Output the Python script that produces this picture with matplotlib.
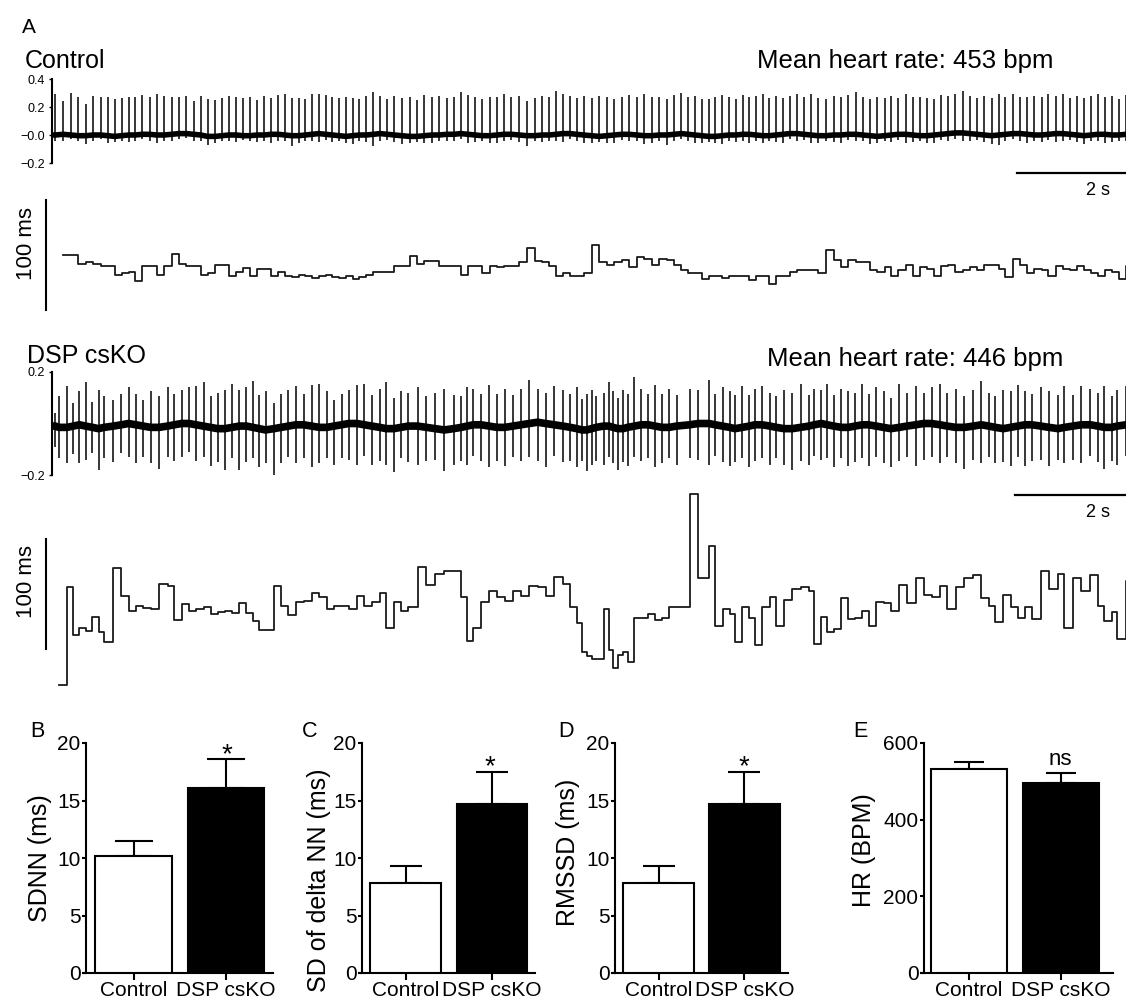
import numpy as np
import matplotlib
matplotlib.use("Agg")
import matplotlib.pyplot as plt

plt.rcParams["font.family"] = ["Liberation Sans", "DejaVu Sans"]

# ---- panel A: RR intervals (ms), one value per beat ----
ctrl_rr = [
    144, 144, 136, 137, 136, 134, 134, 126, 127, 128,
    120, 134, 134, 126, 134, 145, 136, 134, 134, 126,
    127, 135, 135, 125, 128, 132, 125, 131, 131, 125,
    128, 125, 124, 126, 125, 123, 125, 126, 124, 123,
    125, 122, 124, 126, 128, 128, 128, 134, 134, 143,
    136, 138, 138, 134, 134, 134, 126, 134, 134, 127,
    134, 133, 134, 134, 137, 150, 138, 137, 134, 125,
    127, 125, 125, 127, 153, 137, 135, 137, 139, 133,
    142, 140, 135, 140, 139, 135, 130, 127, 127, 122,
    125, 125, 123, 125, 125, 125, 121, 125, 125, 117,
    125, 125, 128, 130, 130, 130, 127, 148, 139, 133,
    139, 137, 137, 130, 128, 133, 125, 130, 135, 125,
    133, 131, 125, 134, 135, 128, 130, 133, 130, 135,
    135, 131, 124, 140, 135, 127, 131, 130, 125, 134,
    131, 130, 134, 130, 127, 125, 130, 128, 122, 134]

# R peak height, S dip and baseline (mV) per beat, control ECG
ctrl_r = [
    0.29, 0.24, 0.30, 0.28, 0.23, 0.28, 0.27, 0.28, 0.27, 0.27,
    0.27, 0.27, 0.28, 0.27, 0.29, 0.28, 0.27, 0.26, 0.27, 0.24,
    0.28, 0.27, 0.26, 0.27, 0.28, 0.27, 0.27, 0.28, 0.25, 0.28,
    0.26, 0.28, 0.29, 0.27, 0.27, 0.26, 0.29, 0.28, 0.28, 0.27,
    0.27, 0.28, 0.27, 0.26, 0.28, 0.30, 0.27, 0.25, 0.28, 0.27,
    0.28, 0.26, 0.29, 0.27, 0.28, 0.26, 0.27, 0.30, 0.28, 0.27,
    0.26, 0.28, 0.27, 0.29, 0.27, 0.28, 0.25, 0.27, 0.28, 0.27,
    0.31, 0.28, 0.27, 0.26, 0.28, 0.27, 0.29, 0.28, 0.26, 0.27,
    0.28, 0.27, 0.30, 0.28, 0.27, 0.26, 0.28, 0.29, 0.27, 0.28,
    0.26, 0.27, 0.28, 0.29, 0.27, 0.26, 0.28, 0.27, 0.28, 0.30,
    0.27, 0.28, 0.26, 0.27, 0.28, 0.27, 0.29, 0.27, 0.26, 0.28,
    0.27, 0.28, 0.30, 0.27, 0.26, 0.28, 0.27, 0.28, 0.26, 0.29,
    0.27, 0.28, 0.27, 0.26, 0.28, 0.27, 0.28, 0.30, 0.27, 0.26,
    0.28, 0.27, 0.29, 0.27, 0.28, 0.26, 0.27, 0.28, 0.27, 0.29,
    0.27, 0.28, 0.26, 0.28, 0.27, 0.28, 0.29, 0.27, 0.28, 0.26,
    0.28]
ctrl_s = [
    -0.04, -0.05, -0.03, -0.04, -0.06, -0.04, -0.03, -0.05, -0.04, -0.04,
    -0.05, -0.04, -0.03, -0.05, -0.06, -0.04, -0.05, -0.04, -0.03, -0.05,
    -0.04, -0.06, -0.05, -0.04, -0.04, -0.05, -0.03, -0.04, -0.05, -0.04,
    -0.06, -0.05, -0.04, -0.07, -0.05, -0.04, -0.05, -0.06, -0.04, -0.05,
    -0.04, -0.05, -0.06, -0.04, -0.05, -0.08, -0.05, -0.04, -0.05, -0.06,
    -0.05, -0.04, -0.05, -0.06, -0.04, -0.05, -0.05, -0.04, -0.06, -0.05,
    -0.04, -0.05, -0.06, -0.05, -0.04, -0.05, -0.07, -0.04, -0.05, -0.04,
    -0.05, -0.06, -0.04, -0.05, -0.06, -0.05, -0.04, -0.05, -0.06, -0.04,
    -0.05, -0.04, -0.06, -0.05, -0.04, -0.07, -0.05, -0.04, -0.05, -0.06,
    -0.05, -0.04, -0.05, -0.06, -0.04, -0.05, -0.05, -0.06, -0.04, -0.05,
    -0.04, -0.05, -0.06, -0.04, -0.05, -0.04, -0.06, -0.05, -0.04, -0.05,
    -0.06, -0.04, -0.05, -0.04, -0.06, -0.05, -0.04, -0.05, -0.04, -0.06,
    -0.05, -0.04, -0.05, -0.06, -0.04, -0.05, -0.04, -0.06, -0.05, -0.04,
    -0.05, -0.06, -0.07, -0.05, -0.04, -0.05, -0.06, -0.04, -0.05, -0.04,
    -0.06, -0.05, -0.04, -0.05, -0.06, -0.04, -0.05, -0.06, -0.05, -0.04,
    -0.05]
ctrl_base = [
    0.000, 0.005, 0.000, -0.005, -0.005, 0.000, 0.000, -0.005, -0.010, -0.005,
    0.000, 0.000, 0.005, 0.005, 0.000, 0.000, 0.005, 0.010, 0.010, 0.005,
    0.000, -0.010, -0.010, -0.005, 0.000, 0.000, -0.005, -0.005, 0.000, 0.000,
    0.005, 0.005, 0.000, -0.005, -0.005, 0.000, 0.005, 0.010, 0.005, 0.000,
    -0.005, -0.010, -0.005, 0.000, 0.000, 0.005, 0.010, 0.005, 0.000, -0.005,
    -0.010, -0.010, -0.005, 0.000, 0.000, 0.005, 0.005, 0.010, 0.005, 0.000,
    -0.005, -0.005, 0.000, 0.005, 0.005, 0.000, -0.005, -0.005, 0.000, 0.000,
    0.005, 0.010, 0.010, 0.005, 0.000, -0.005, -0.010, -0.005, 0.000, 0.005,
    0.005, 0.000, -0.005, -0.005, 0.000, 0.000, 0.005, 0.010, 0.005, 0.000,
    -0.005, -0.010, -0.010, -0.005, 0.000, 0.000, 0.005, 0.005, 0.000, -0.005,
    -0.005, 0.000, 0.005, 0.010, 0.010, 0.005, 0.000, -0.005, -0.005, 0.000,
    0.000, 0.005, 0.005, 0.000, -0.005, -0.010, -0.005, 0.000, 0.005, 0.005,
    0.000, -0.005, -0.005, 0.000, 0.005, 0.010, 0.015, 0.015, 0.010, 0.005,
    0.000, -0.005, 0.000, 0.005, 0.010, 0.010, 0.005, 0.000, 0.000, 0.005,
    0.010, 0.010, 0.005, 0.000, -0.005, 0.000, 0.005, 0.005, 0.000, 0.000,
    0.005]

ko_rr = [
    62, 151, 107, 114, 111, 124, 110, 101, 168, 143,
    129, 134, 132, 131, 154, 152, 121, 135, 129, 131,
    133, 126, 128, 129, 127, 136, 127, 120, 112, 112,
    152, 134, 125, 137, 138, 145, 142, 131, 134, 134,
    131, 143, 134, 137, 145, 114, 137, 129, 133, 169,
    153, 163, 165, 165, 142, 102, 114, 137, 147, 142,
    138, 147, 143, 152, 151, 143, 160, 154, 133, 118,
    92, 88, 85, 85, 131, 94, 77, 89, 92, 83,
    123, 123, 126, 121, 123, 133, 133, 235, 159, 188,
    115, 131, 126, 101, 133, 123, 98, 133, 142, 115,
    139, 149, 151, 147, 99, 124, 110, 113, 141, 122,
    123, 129, 115, 137, 136, 129, 153, 136, 159, 144,
    142, 152, 131, 151, 159, 162, 141, 134, 119, 144,
    133, 123, 133, 122, 165, 149, 163, 114, 159, 147,
    162, 134, 120, 128, 104, 156]

ko_r = [
    0.05, 0.12, 0.16, 0.09, 0.13, 0.17, 0.10, 0.15, 0.12, 0.10,
    0.12, 0.14, 0.12, 0.10, 0.14, 0.12, 0.15, 0.12, 0.13, 0.14,
    0.15, 0.17, 0.12, 0.14, 0.15, 0.17, 0.14, 0.15, 0.18, 0.13,
    0.15, 0.10, 0.13, 0.14, 0.15, 0.12, 0.16, 0.17, 0.14, 0.10,
    0.12, 0.13, 0.15, 0.16, 0.12, 0.15, 0.18, 0.12, 0.14, 0.13,
    0.15, 0.12, 0.14, 0.16, 0.13, 0.12, 0.15, 0.14, 0.12, 0.16,
    0.13, 0.15, 0.12, 0.14, 0.17, 0.13, 0.12, 0.15, 0.14, 0.13,
    0.16, 0.12, 0.14, 0.15, 0.12, 0.13, 0.17, 0.14, 0.12, 0.15,
    0.13, 0.19, 0.14, 0.12, 0.16, 0.13, 0.15, 0.12, 0.14, 0.13,
    0.17, 0.12, 0.15, 0.14, 0.13, 0.16, 0.12, 0.14, 0.15, 0.13,
    0.12, 0.15, 0.14, 0.17, 0.12, 0.14, 0.13, 0.16, 0.12, 0.15,
    0.14, 0.13, 0.16, 0.12, 0.15, 0.14, 0.12, 0.17, 0.13, 0.15,
    0.12, 0.14, 0.16, 0.13, 0.15, 0.12, 0.14, 0.17, 0.13, 0.12,
    0.15, 0.14, 0.16, 0.13, 0.12, 0.15, 0.14, 0.13, 0.16, 0.12,
    0.15, 0.14, 0.13, 0.16, 0.12, 0.14, 0.15]
ko_s = [
    -0.08, -0.12, -0.14, -0.11, -0.15, -0.13, -0.10, -0.16, -0.12, -0.14,
    -0.11, -0.13, -0.15, -0.12, -0.14, -0.16, -0.12, -0.14, -0.13, -0.11,
    -0.14, -0.12, -0.15, -0.13, -0.16, -0.12, -0.17, -0.14, -0.12, -0.15,
    -0.13, -0.18, -0.14, -0.12, -0.15, -0.13, -0.16, -0.14, -0.12, -0.15,
    -0.13, -0.14, -0.16, -0.12, -0.15, -0.13, -0.14, -0.17, -0.12, -0.14,
    -0.15, -0.13, -0.12, -0.16, -0.14, -0.13, -0.15, -0.12, -0.14, -0.16,
    -0.13, -0.15, -0.12, -0.14, -0.13, -0.15, -0.17, -0.12, -0.14, -0.13,
    -0.15, -0.12, -0.16, -0.14, -0.13, -0.15, -0.12, -0.14, -0.16, -0.13,
    -0.15, -0.12, -0.14, -0.13, -0.16, -0.14, -0.12, -0.15, -0.13, -0.14,
    -0.16, -0.12, -0.14, -0.15, -0.13, -0.12, -0.16, -0.14, -0.13, -0.15,
    -0.12, -0.14, -0.16, -0.13, -0.15, -0.12, -0.14, -0.13, -0.16, -0.12,
    -0.15, -0.14, -0.13, -0.16, -0.12, -0.14, -0.15, -0.13, -0.12, -0.16,
    -0.14, -0.13, -0.15, -0.12, -0.14, -0.16, -0.13, -0.15, -0.12, -0.14,
    -0.13, -0.15, -0.12, -0.16, -0.14, -0.13, -0.15, -0.12, -0.14, -0.13,
    -0.15, -0.12, -0.14, -0.16, -0.13, -0.15, -0.12]
ko_base = [
    -0.010, -0.015, -0.015, -0.010, -0.005, -0.010, -0.015, -0.020, -0.015, -0.010,
    -0.005, 0.000, -0.005, -0.010, -0.015, -0.015, -0.010, -0.005, 0.000, 0.000,
    -0.005, -0.010, -0.015, -0.020, -0.020, -0.015, -0.010, -0.010, -0.015, -0.020,
    -0.025, -0.020, -0.015, -0.010, -0.005, -0.005, -0.010, -0.015, -0.015, -0.010,
    -0.005, 0.000, 0.000, -0.005, -0.010, -0.015, -0.020, -0.020, -0.015, -0.010,
    -0.010, -0.015, -0.020, -0.025, -0.020, -0.015, -0.010, -0.005, -0.005, -0.010,
    -0.015, -0.015, -0.010, -0.005, 0.000, 0.005, 0.000, -0.005, -0.010, -0.015,
    -0.020, -0.025, -0.025, -0.020, -0.015, -0.010, -0.010, -0.015, -0.020, -0.020,
    -0.015, -0.010, -0.005, -0.005, -0.010, -0.015, -0.015, -0.010, -0.005, 0.000,
    0.000, -0.005, -0.010, -0.015, -0.020, -0.015, -0.010, -0.005, -0.005, -0.010,
    -0.015, -0.020, -0.020, -0.015, -0.010, -0.005, 0.000, -0.005, -0.010, -0.015,
    -0.015, -0.010, -0.005, -0.005, -0.010, -0.015, -0.020, -0.015, -0.010, -0.005,
    0.000, 0.000, -0.005, -0.010, -0.015, -0.015, -0.010, -0.005, -0.010, -0.015,
    -0.020, -0.015, -0.010, -0.005, -0.005, -0.010, -0.015, -0.020, -0.015, -0.010,
    -0.005, -0.005, -0.010, -0.015, -0.015, -0.010, -0.005]

# ---- panels B-E: group means and upper SEM ----
groups = ["Control", "DSP csKO"]
sdnn = [10.2, 16.1]
sdnn_err = [1.3, 2.5]
sd_delta = [7.8, 14.7]
sd_delta_err = [1.5, 2.8]
rmssd = [7.8, 14.7]
rmssd_err = [1.5, 2.8]
hr = [532, 496]
hr_err = [18, 25]

W, H = 1126, 1001
fig = plt.figure(figsize=(W / 100, H / 100), dpi=100)


def px_axes(l, t, r, b):
    return fig.add_axes([l / W, 1 - b / H, (r - l) / W, (b - t) / H])


def ftext(x, y, s, **kw):
    return fig.text(x / W, 1 - y / H, s, **kw)


def beat_times(rr, lead=0.06):
    return lead + np.concatenate([[0.0], np.cumsum(rr) / 1000.0])


def draw_ecg(ax, rr, r_amp, s_amp, base, lw_base):
    t = beat_times(rr)
    n = min(len(t), len(r_amp), len(s_amp), len(base))
    t = t[:n]
    b = np.array(base[:n])
    xmax = t[-1]
    ax.plot(np.r_[0, t], np.r_[b[0], b], color="black", lw=lw_base,
            solid_joinstyle="round")
    ax.vlines(t, b + np.array(s_amp[:n]), b + np.array(r_amp[:n]),
              color="black", lw=1.1, clip_on=False)
    ax.set_xlim(0, xmax)
    for s in ["top", "right", "bottom"]:
        ax.spines[s].set_visible(False)
    ax.spines["left"].set_linewidth(1.5)
    ax.set_xticks([])
    ax.tick_params(axis="y", length=2, width=1, pad=3, labelsize=9)
    ax.patch.set_visible(False)
    return xmax


def draw_rr(ax, rr, xmax, ylim, bar_lo):
    t = beat_times(rr)
    xs = np.r_[t[1:], t[-1] + rr[-1] / 1000.0]
    ys = np.r_[rr, rr[-1]]
    ax.plot(xs, ys, drawstyle="steps-post", color="#1a1a1a", lw=1.3)
    ax.set_xlim(0, xmax)
    ax.set_ylim(*ylim)
    ax.axis("off")
    xbar = -6 * xmax / 1074.0
    ax.plot([xbar, xbar], [bar_lo, bar_lo + 100], color="black", lw=1.5,
            clip_on=False)


# ---- panel A ----
ftext(22, 33, "A", fontsize=15, va="baseline")

ftext(25, 68, "Control", fontsize=18, va="baseline")
ftext(757, 68, "Mean heart rate: 453 bpm", fontsize=18.5, va="baseline")
ax1 = px_axes(52, 79, 1126, 163)
ax1.set_ylim(-0.2, 0.4)
ax1.set_yticks([0.4, 0.2, 0.0, -0.2])
ax1.set_yticklabels(["0.4", "0.2", "\u22120.0", "\u22120.2"])
xm1 = draw_ecg(ax1, ctrl_rr, ctrl_r, ctrl_s, ctrl_base, 4.0)
ax1.plot([xm1 - 2, xm1], [-0.271, -0.271], color="black", lw=1.6, clip_on=False)
ftext(1098, 195, "2 s", fontsize=13, ha="center", va="baseline")

ax2 = px_axes(52, 190, 1126, 320)
draw_rr(ax2, ctrl_rr, xm1, (84.7, 202.9), 93.8)
ftext(26, 243, "100 ms", fontsize=16, rotation=90, ha="center", va="center")

ftext(27, 363, "DSP csKO", fontsize=18, va="baseline")
ftext(767, 366, "Mean heart rate: 446 bpm", fontsize=18.5, va="baseline")
ax3 = px_axes(52, 372, 1126, 475)
ax3.set_ylim(-0.2, 0.2)
ax3.set_yticks([0.2, -0.2])
ax3.set_yticklabels(["0.2", "\u22120.2"])
xm2 = draw_ecg(ax3, ko_rr, ko_r, ko_s, ko_base, 5.5)
ax3.plot([xm2 - 2, xm2], [-0.278, -0.278], color="black", lw=1.6, clip_on=False)
ftext(1098, 517, "2 s", fontsize=13, ha="center", va="baseline")

ax4 = px_axes(52, 480, 1126, 700)
draw_rr(ax4, ko_rr, xm2, (48.1, 248.1), 94.5)
ftext(26, 582, "100 ms", fontsize=16, rotation=90, ha="center", va="center")


# ---- panels B-E ----
def bar_panel(l, r, vals, errs, ymax, yticks, xl, width, capsize):
    ax = px_axes(l, 743, r, 973)
    ax.bar([0, 1], vals, width=width, color=["white", "black"],
           edgecolor="black", linewidth=1.5, zorder=3)
    ax.errorbar([0, 1], vals, yerr=[[0, 0], errs], fmt="none", ecolor="black",
                elinewidth=1.5, capsize=capsize, capthick=1.5, zorder=2)
    ax.set_xlim(*xl)
    ax.set_ylim(0, ymax)
    ax.set_yticks(yticks)
    ax.set_xticks([0, 1])
    ax.set_xticklabels(groups, fontsize=15)
    for s in ["top", "right"]:
        ax.spines[s].set_visible(False)
    for s in ["left", "bottom"]:
        ax.spines[s].set_linewidth(1.5)
    ax.spines["bottom"].set_bounds(xl[0] - 0.03, xl[1])
    ax.tick_params(axis="y", length=3, width=1.5, pad=1, labelsize=15)
    ax.tick_params(axis="x", length=5, width=1.5, pad=1)
    return ax


bar_panel(86, 273, sdnn, sdnn_err, 20, [0, 5, 10, 15, 20], (-0.514, 1.508), 0.83, 14)
ftext(30, 737, "B", fontsize=15.5, va="baseline")
ftext(40, 858, "SDNN (ms)", fontsize=18, rotation=90, ha="center", va="center")
ftext(227, 762, "*", fontsize=20, ha="center", va="baseline")

bar_panel(362, 535, sd_delta, sd_delta_err, 20, [0, 5, 10, 15, 20], (-0.503, 1.497), 0.82, 11.5)
ftext(302, 737, "C", fontsize=15.5, va="baseline")
ftext(319, 880, "SD of delta NN (ms)", fontsize=18, rotation=90, ha="center", va="center")
ftext(490, 774, "*", fontsize=20, ha="center", va="baseline")

bar_panel(615, 788, rmssd, rmssd_err, 20, [0, 5, 10, 15, 20], (-0.506, 1.506), 0.83, 11.5)
ftext(558, 737, "D", fontsize=15.5, va="baseline")
ftext(568, 852, "RMSSD (ms)", fontsize=18, rotation=90, ha="center", va="center")
ftext(744, 774, "*", fontsize=20, ha="center", va="baseline")

bar_panel(924, 1113, hr, hr_err, 600, [0, 200, 400, 600], (-0.49, 1.565), 0.83, 11)
ftext(853, 737, "E", fontsize=15.5, va="baseline")
ftext(864, 850, "HR (BPM)", fontsize=18, rotation=90, ha="center", va="center")
ftext(1060, 765, "ns", fontsize=16, ha="center", va="baseline")

fig.savefig("out.png", dpi=100)
